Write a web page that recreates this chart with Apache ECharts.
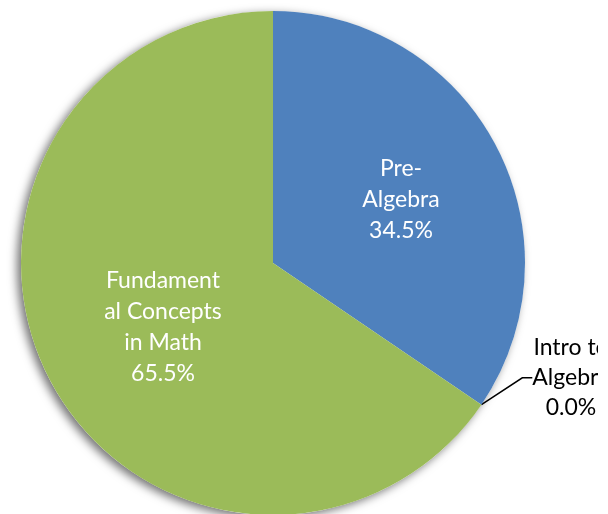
<!DOCTYPE html>
<html><head><meta charset="utf-8">
<script src="https://cdn.jsdelivr.net/npm/echarts@6/dist/echarts.min.js"></script>
<style>html,body{margin:0;padding:0;background:#fff}#c{width:598px;height:514px}</style>
</head><body><div id="c"></div>
<script>
const categories = ['Pre-Algebra', 'Intro to Algebra', 'Fundamental Concepts in Math'];
const values = [34.5, 0, 65.5];
const percentLabels = ['34.5%', '0.0%', '65.5%'];
const labelTexts = ['Pre-\nAlgebra', 'Intro to\nAlgebra', 'Fundament\nal Concepts\nin Math'];
const colors = ['#4F81BD', '#C0504D', '#9BBB59'];

const FONT = 'Lato';
const chart = echarts.init(document.getElementById('c'), null, {renderer: 'canvas'});

const data = categories.map((name, i) => {
  const lines = (labelTexts[i] + '\n' + percentLabels[i]).split('\n');
  const item = {
    name: name,
    value: values[i],
    itemStyle: {color: colors[i]}
  };
  if (i === 1) {
    item.label = {
      show: true,
      position: 'outside',
      formatter: lines.map(l => '{c|' + l + '}').join('\n'),
      rich: {c: {align: 'center', color: '#000', fontSize: 23, lineHeight: 30, fontFamily: FONT}}
    };
    item.labelLine = {show: true, length: 18, length2: 10, smooth: false,
      lineStyle: {color: '#000', width: 1.5}};
  } else {
    item.label = {
      show: true,
      position: 'inside',
      formatter: lines.join('\n'),
      color: '#fff', fontSize: 23, lineHeight: 31, fontFamily: FONT
    };
  }
  return item;
});

chart.setOption({
  backgroundColor: '#fff',
  animation: false,
  series: [
    {
      type: 'pie', silent: true, center: [273, 263], radius: 252,
      startAngle: 90, label: {show: false}, labelLine: {show: false},
      data: [{value: 1, itemStyle: {color: '#fff', shadowBlur: 10, shadowColor: 'rgba(0,0,0,0.55)', shadowOffsetX: -4, shadowOffsetY: 3}}],
      z: 1
    },
    {
      type: 'pie', center: [273, 263], radius: 252,
      startAngle: 90, clockwise: true,
      avoidLabelOverlap: false,
      itemStyle: {borderWidth: 0},
      emphasis: {disabled: true},
      data: data,
      labelLayout: function (p) {
        if (p.dataIndex === 0) return {dx: 14, dy: -3};
        if (p.dataIndex === 2) return {dx: 4, dy: 4};
        if (p.dataIndex === 1) {
          const r = p.labelRect;
          return {x: r.x + 21, y: r.y + r.height / 2 - 37};
        }
        return {};
      },
      z: 2
    }
  ]
});
</script></body></html>
